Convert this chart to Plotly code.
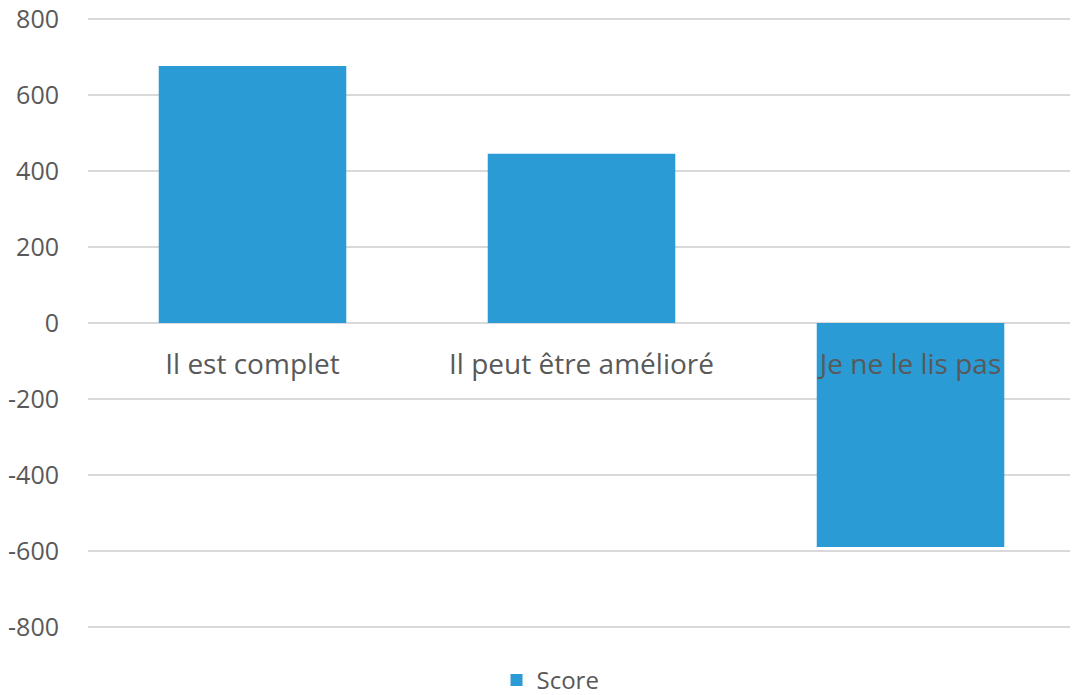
import plotly.graph_objects as go

categories = ["Il est complet", "Il peut être amélioré", "Je ne le lis pas"]
scores = [676, 445, -589]
series_name = "Score"
y_ticks = [-800, -600, -400, -200, 0, 200, 400, 600, 800]
y_tick_text = [str(v) for v in y_ticks]  # plain hyphen minus, as in the reference

fig = go.Figure()
fig.add_trace(go.Bar(
    x=categories, y=scores, name=series_name,
    marker=dict(color="#2A9BD4", line=dict(width=0)),
    width=0.57, showlegend=True,
))

grey = "#595959"
fig.update_layout(
    width=1070, height=687,
    margin=dict(l=80, r=3, t=9, b=66, autoexpand=False),
    plot_bgcolor="white", paper_bgcolor="white",
    font=dict(family="Open Sans", size=25, color=grey),
    showlegend=True,
    legend=dict(orientation="h", x=0.4686, xanchor="center", y=-0.084, yanchor="middle",
                font=dict(family="Open Sans", size=24, color=grey),
                itemwidth=30, bgcolor="rgba(0,0,0,0)"),
    xaxis=dict(anchor="free", position=0.5, showgrid=False, showline=False,
               ticks="", tickfont=dict(family="Open Sans", size=28, color=grey),
               zeroline=False, automargin=False, ticklabelstandoff=22),
    yaxis=dict(range=[-805, 805], tickvals=y_ticks, ticktext=y_tick_text,
               showgrid=True, gridcolor="#D9D9D9", gridwidth=1.5,
               zeroline=True, zerolinecolor="#D9D9D9", zerolinewidth=1.5,
               ticks="", tickfont=dict(family="Open Sans", size=25, color=grey),
               ticklabeloverflow="allow",
               automargin=False, ticklabelstandoff=28),
)
fig.write_html("out.html")
